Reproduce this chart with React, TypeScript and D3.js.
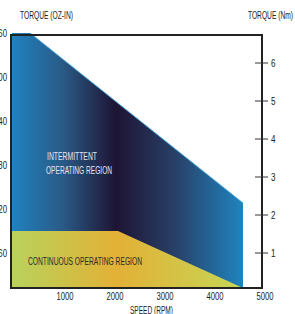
import React from 'react';
import * as d3 from 'd3';

// speed (rpm) / torque (oz-in) outline of each operating region
const intermittentSpeed = [0, 360, 4620, 4620, 0];
const intermittentTorque = [960, 960, 343, 35, 35];
const continuousSpeed = [0, 2120, 4620, 0];
const continuousTorque = [242, 242, 35, 35];

const speedTicks = [1000, 2000, 3000, 4000, 5000];
const ozTicks = [960, 800, 640, 480, 320, 160];
const nmTicks = [1, 2, 3, 4, 5, 6];

const W = 295;
const H = 314;
const frame = { left: 11, right: 262, top: 33, bottom: 288 };
const font = "'Liberation Sans', Arial, sans-serif";

// condensed text: squeeze glyphs to a given width
const Label: React.FC<{ x: number; y: number; w: number; fill?: string; anchor?: string; children: React.ReactNode }> =
    ({ x, y, w, fill = '#222', anchor = 'start', children }) => (
        <text x={x} y={y} dy="0.35em" fontSize={10} fontFamily={font} fill={fill}
              textAnchor={anchor} textLength={w} lengthAdjust="spacingAndGlyphs">{children}</text>
    );

const App: React.FC = () => {
    const x = d3.scaleLinear().domain([0, 5000]).range([12, 262]);
    const y = d3.scaleLinear().domain([35, 960]).range([frame.bottom, frame.top]);
    const yNm = d3.scaleLinear().domain([1, 6]).range([253, 63]);

    const line = d3.line<[number, number]>()
        .x(d => x(d[0]))
        .y(d => y(d[1]));

    const interPath = line(intermittentSpeed.map((s, i) => [s, intermittentTorque[i]] as [number, number])) + 'Z';
    const contPath = line(continuousSpeed.map((s, i) => [s, continuousTorque[i]] as [number, number])) + 'Z';
    const edgePath = line([[intermittentSpeed[1], intermittentTorque[1]], [intermittentSpeed[2], intermittentTorque[2]]]);

    const gx0 = x(0);
    const gx1 = x(4620);

    return (
        <div style={{ position: 'absolute', left: 0, top: 0 }}>
            <svg width={W} height={H} style={{ display: 'block' }}>
                <defs>
                    <linearGradient id="interGrad" gradientUnits="userSpaceOnUse" x1={gx0} x2={gx1} y1={0} y2={0}>
                        <stop offset="0" stopColor="#1f82c0" />
                        <stop offset="0.22" stopColor="#2a5a86" />
                        <stop offset="0.45" stopColor="#1e1434" />
                        <stop offset="0.7" stopColor="#283f66" />
                        <stop offset="1" stopColor="#1f84bf" />
                    </linearGradient>
                    <linearGradient id="contGrad" gradientUnits="userSpaceOnUse" x1={gx0} x2={gx1} y1={0} y2={0}>
                        <stop offset="0" stopColor="#b8d25c" />
                        <stop offset="0.45" stopColor="#e2b136" />
                        <stop offset="1" stopColor="#c6d656" />
                    </linearGradient>
                </defs>

                <path d={interPath} fill="url(#interGrad)" />
                <path d={edgePath ?? ''} fill="none" stroke="#45a6dc" strokeWidth={1} />
                <path d={contPath} fill="url(#contGrad)" />

                <rect x={frame.left} y={frame.top + 2} width={frame.right - frame.left}
                      height={frame.bottom - frame.top - 2} fill="none" stroke="#222" strokeWidth={2} />

                {nmTicks.map(t => (
                    <g key={t}>
                        <line x1={255} x2={268} y1={yNm(t)} y2={yNm(t)} stroke="#333" strokeWidth={1} />
                        <Label x={271} y={yNm(t)} w={4.5}>{t}</Label>
                    </g>
                ))}

                {ozTicks.map(t => (
                    <Label key={t} x={7} y={y(t)} w={13} anchor="end">{t}</Label>
                ))}

                {speedTicks.map(t => (
                    <Label key={t} x={x(t) + 3} y={296} w={17} anchor="middle">{t}</Label>
                ))}

                <Label x={20} y={15} w={53}>TORQUE (OZ-IN)</Label>
                <Label x={248} y={15} w={45}>TORQUE (Nm)</Label>
                <Label x={130} y={310} w={43}>SPEED (RPM)</Label>

                <Label x={47} y={156} w={50} fill="#e2e6f2">INTERMITTENT</Label>
                <Label x={46} y={170} w={66} fill="#e2e6f2">OPERATING REGION</Label>
                <Label x={28} y={261} w={114} fill="#2a2a2a">CONTINUOUS OPERATING REGION</Label>
            </svg>
        </div>
    );
};

export default App;
